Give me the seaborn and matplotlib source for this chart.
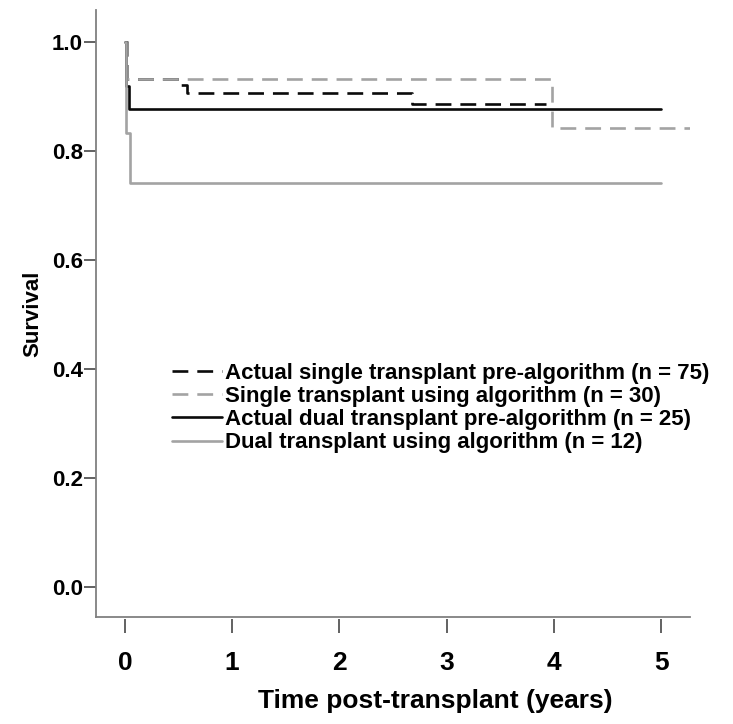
import numpy as np
import pandas as pd
import matplotlib
matplotlib.use("Agg")
import matplotlib.pyplot as plt
from matplotlib import font_manager
from matplotlib.markers import MarkerStyle
from matplotlib.path import Path
import seaborn as sns

# ---- data (Kaplan-Meier step curves) ----
labels = [
    "Actual single transplant pre-algorithm (n = 75)",
    "Single transplant using algorithm (n = 30)",
    "Actual dual transplant pre-algorithm (n = 25)",
    "Dual transplant using algorithm (n = 12)",
]
single_pre_t = [0.0, 0.02, 0.50, 0.58, 2.68, 3.93]
single_pre_s = [1.0, 0.933, 0.922, 0.906, 0.887, 0.887]
single_alg_t = [0.0, 0.02, 3.98, 5.30]
single_alg_s = [1.0, 0.933, 0.843, 0.843]
dual_pre_t = [0.0, 0.01, 0.04, 5.00]
dual_pre_s = [1.0, 0.920, 0.877, 0.877]
dual_alg_t = [0.0, 0.01, 0.05, 5.00]
dual_alg_s = [1.0, 0.833, 0.742, 0.742]

x_ticks = [0, 1, 2, 3, 4, 5]
y_ticks = [0.0, 0.2, 0.4, 0.6, 0.8, 1.0]

sns.set_theme(style="white")
avail = {f.name for f in font_manager.fontManager.ttflist}
base = ["Liberation Sans", "DejaVu Sans"]
narrow = (["Liberation Sans Narrow"] if "Liberation Sans Narrow" in avail else []) + base
plt.rcParams["font.family"] = base
plt.rcParams["text.color"] = "black"
plt.rcParams["axes.labelcolor"] = "black"
plt.rcParams["xtick.color"] = "black"
plt.rcParams["ytick.color"] = "black"

fig = plt.figure(figsize=(7.33, 7.24), dpi=100)
ax = fig.add_axes([96 / 733, 1 - 617 / 724, 594 / 733, 607 / 724])

gray = "#a3a3a3"
black = "#0a0a0a"
dash = (0, (6.0, 3.4))
series = [
    (single_pre_t, single_pre_s, black, dash),
    (single_alg_t, single_alg_s, gray, dash),
    (dual_pre_t, dual_pre_s, black, "-"),
    (dual_alg_t, dual_alg_s, gray, "-"),
]
for (t, s, c, ls), lab in zip(series, labels):
    sns.lineplot(x=t, y=s, ax=ax, color=c, linestyle=ls, linewidth=1.9,
                 drawstyle="steps-post", estimator=None, sort=False,
                 label=lab)

ax.set_xlim(-0.27, 5.27)
ax.set_ylim(-0.055, 1.059)
ax.set_xticks(x_ticks)
ax.set_xticklabels([str(v) for v in x_ticks])
ax.set_yticks(y_ticks)
ax.set_yticklabels([f"{v:.1f}" for v in y_ticks])

for side in ["top", "right"]:
    ax.spines[side].set_visible(False)
for side in ["left", "bottom"]:
    ax.spines[side].set_color("#808080")
    ax.spines[side].set_linewidth(1.3)

ax.tick_params(axis="y", left=True, direction="out", length=8.5, width=1.3,
               color="#555555", labelcolor="black", pad=1, labelsize=16)
for lab in ax.get_yticklabels():
    lab.set_fontweight("bold")
    lab.set_family(base)

# detached x ticks (gap below the spine)
tick_path = Path([[0, -0.14], [0, -1.0]])
ax.tick_params(axis="x", bottom=True, direction="out", length=11.5, width=1.3,
               color="#555555", labelcolor="black", pad=13, labelsize=19)
for tk in ax.xaxis.get_major_ticks():
    tk.tick1line.set_marker(MarkerStyle(tick_path))
    tk.tick1line.set_markersize(23)
for lab in ax.get_xticklabels():
    lab.set_fontweight("bold")
    lab.set_family(narrow)

ax.set_ylabel("Survival", fontsize=16, fontweight="bold", family=base)
ax.yaxis.label.set_va("center")
ax.yaxis.set_label_coords(-0.106, 0.5)
ax.set_xlabel("Time post-transplant (years)", fontsize=19, fontweight="bold",
              family=narrow)
ax.xaxis.label.set_va("center")
ax.xaxis.set_label_coords(0.571, -0.138)

leg = ax.legend(loc="center left", bbox_to_anchor=(172 / 733, 1 - 408 / 724),
                bbox_transform=fig.transFigure, frameon=False,
                prop={"weight": "bold", "size": 16, "family": base},
                handlelength=2.25, handletextpad=0.14, labelspacing=0.1,
                borderpad=0, borderaxespad=0)
for txt in leg.get_texts():
    txt.set_color("black")

fig.savefig("out.png", dpi=100)
